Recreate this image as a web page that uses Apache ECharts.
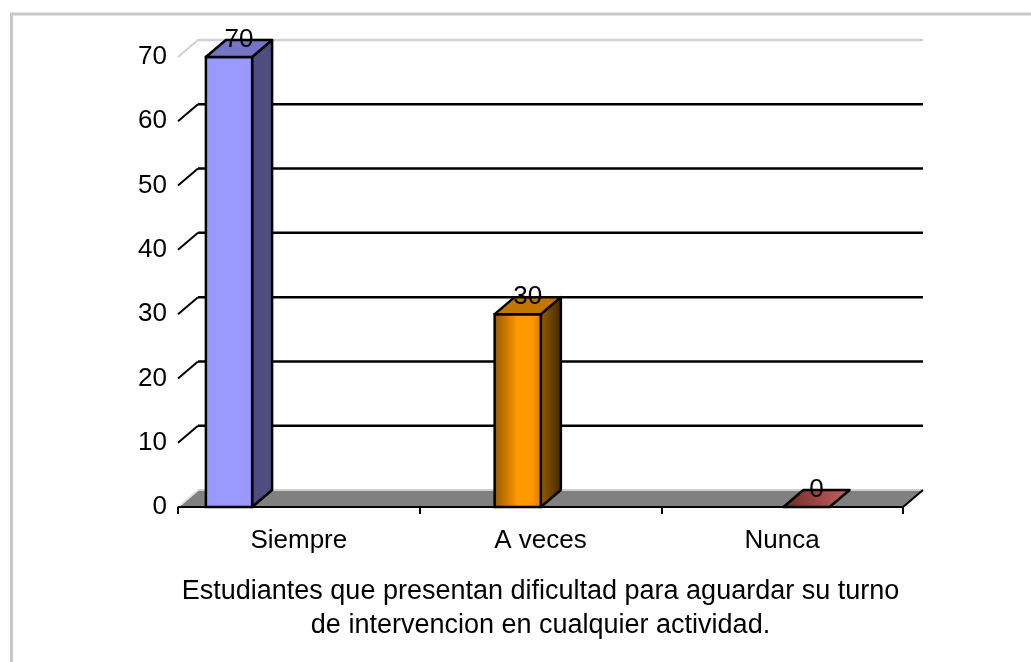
<!DOCTYPE html>
<html><head><meta charset="utf-8">
<script src="https://cdn.jsdelivr.net/npm/echarts@6/dist/echarts.min.js"></script>
<style>html,body{margin:0;padding:0;background:#fff}#c{width:1031px;height:662px}</style>
</head><body><div id="c"></div>
<script>
const categories = ['Siempre', 'A veces', 'Nunca'];
const values = [70, 30, 0];
const barPositions = [0, 1, 2];
const yTicks = [0, 10, 20, 30, 40, 50, 60, 70];
const axisTitle = 'Estudiantes que presentan dificultad para aguardar su turno\nde intervencion en cualquier actividad.';

const DX = 20, DY = -17;
const FONT = '"Liberation Sans", Arial, sans-serif';
const FS = 26;
const G = echarts.graphic;
const barStyles = [
  { front: '#9999FF', side: '#4D4D7E', top: '#7575C6' },
  {
    front: new G.LinearGradient(0, 0, 1, 0, [
      { offset: 0, color: '#945600' }, { offset: 0.5, color: '#FF9900' },
      { offset: 0.8, color: '#FF9900' }, { offset: 1, color: '#C87800' }]),
    side: new G.LinearGradient(0, 0, 1, 0, [
      { offset: 0, color: '#9A5E00' }, { offset: 1, color: '#3E2700' }]),
    top: '#C27600'
  },
  {
    front: '#B05050', side: '#5A2020',
    top: new G.LinearGradient(0, 0, 1, 0, [
      { offset: 0, color: '#6E2828' }, { offset: 1, color: '#C86262' }])
  }
];

const chart = echarts.init(document.getElementById('c'), null, { renderer: 'canvas' });

function wallItem(params, api) {
  const v = api.value(0);
  const y = api.coord([0, v])[1];
  const cs = params.coordSys;
  const L = cs.x, R = cs.x + cs.width;
  const children = [];
  const isTop = v === yTicks[yTicks.length - 1];
  if (v === 0) {
    children.push({ type: 'polygon', shape: { points: [[L, y], [L + DX, y + DY], [R + DX, y + DY], [R, y]] },
      style: { fill: '#808080' } });
    children.push({ type: 'line', shape: { x1: L + DX, y1: y + DY, x2: R + DX, y2: y + DY },
      style: { stroke: '#D0D0D0', lineWidth: 2 } });
    children.push({ type: 'line', shape: { x1: L, y1: y, x2: L + DX, y2: y + DY },
      style: { stroke: '#E6E6E6', lineWidth: 2 } });
    children.push({ type: 'line', shape: { x1: R, y1: y, x2: R + DX, y2: y + DY },
      style: { stroke: '#000', lineWidth: 2 } });
    children.push({ type: 'line', shape: { x1: L, y1: y, x2: R, y2: y },
      style: { stroke: '#000', lineWidth: 2 } });
  } else {
    const col = isTop ? '#D0D0D0' : '#000';
    children.push({ type: 'line', shape: { x1: L + DX, y1: y + DY, x2: R + DX, y2: y + DY },
      style: { stroke: col, lineWidth: 2.5 } });
    children.push({ type: 'line', shape: { x1: L, y1: y, x2: L + DX, y2: y + DY },
      style: { stroke: col, lineWidth: 2 } });
  }
  return { type: 'group', children };
}

function barItem(params, api) {
  const i = api.value(0), v = api.value(1);
  const base = api.coord([i, 0]);
  const top = api.coord([i, v]);
  const hw = api.size([1, 0])[0] * 0.08;
  const cx = base[0];
  const x0 = cx - hw, x1 = cx + hw;
  const yb = base[1], yt = top[1];
  const st = barStyles[params.dataIndex];
  const children = [];
  if (yb - yt > 0.5) {
    children.push({ type: 'polygon', shape: { points: [[x1, yt], [x1 + DX, yt + DY], [x1 + DX, yb + DY], [x1, yb]] },
      style: { fill: st.side, stroke: '#000', lineWidth: 2.5, lineJoin: 'round' } });
    children.push({ type: 'rect', shape: { x: x0, y: yt, width: x1 - x0, height: yb - yt },
      style: { fill: st.front, stroke: '#000', lineWidth: 2.5 } });
  }
  children.push({ type: 'polygon', shape: { points: [[x0, yt], [x0 + DX, yt + DY], [x1 + DX, yt + DY], [x1, yt]] },
    style: { fill: st.top, stroke: '#000', lineWidth: 2.5, lineJoin: 'round' } });
  children.push({ type: 'text', x: cx + DX / 2, y: yt + DY,
    style: { text: String(v), fill: '#000', font: FS + 'px ' + FONT, align: 'center', verticalAlign: 'middle' } });
  return { type: 'group', children };
}

chart.setOption({
  animation: false,
  backgroundColor: '#fff',
  graphic: [
    { type: 'line', shape: { x1: 10, y1: 14, x2: 1031, y2: 14 }, style: { stroke: '#C8C8C8', lineWidth: 3 } },
    { type: 'line', shape: { x1: 11.5, y1: 13, x2: 11.5, y2: 662 }, style: { stroke: '#C8C8C8', lineWidth: 3 } }
  ],
  grid: { left: 178, right: 128, top: 57, bottom: 155, containLabel: false },
  xAxis: [
    {
      type: 'category', data: categories, boundaryGap: true,
      axisLine: { show: true, lineStyle: { color: '#000', width: 2 } },
      axisTick: { show: true, length: 7, lineStyle: { color: '#000', width: 2 } },
      axisLabel: { color: '#000', fontSize: FS, fontFamily: FONT, margin: 21 },
      splitLine: { show: false },
      name: axisTitle, nameLocation: 'middle', nameGap: 68,
      nameTextStyle: { color: '#000', fontSize: 27, fontFamily: FONT, lineHeight: 34 }
    },
    { type: 'value', min: -0.1766, max: 2.3342, show: false }
  ],
  yAxis: {
    type: 'value', min: 0, max: 70, interval: 10,
    axisLine: { show: true, lineStyle: { color: '#000', width: 2 } },
    axisTick: { show: true, length: 6, lineStyle: { color: '#000', width: 2 } },
    axisLabel: { color: '#000', fontSize: FS, fontFamily: FONT, margin: 11 },
    splitLine: { show: false }
  },
  series: [
    {
      type: 'custom', xAxisIndex: 1, yAxisIndex: 0, z: 1,
      data: yTicks.map(v => [v]), encode: { y: 0 },
      renderItem: wallItem, silent: true
    },
    {
      type: 'custom', xAxisIndex: 1, yAxisIndex: 0, z: 3,
      data: barPositions.map((p, k) => [p, values[k]]), encode: { x: 0, y: 1 },
      renderItem: barItem, silent: true
    }
  ]
});
</script></body></html>
